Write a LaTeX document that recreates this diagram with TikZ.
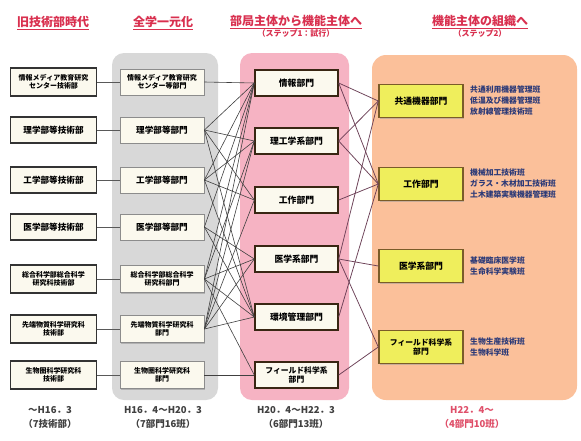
\documentclass[tikz,border=0pt]{standalone}
\usepackage{fontspec}
\setmainfont{Noto Sans CJK JP}
\usetikzlibrary{shadows}
\definecolor{hdred}{HTML}{D9304F}
\definecolor{bggrey}{HTML}{D8D8D8}
\definecolor{bgpink}{HTML}{F6B3C3}
\definecolor{bgorange}{HTML}{FBC09A}
\definecolor{cream}{HTML}{FBF9EE}
\definecolor{ybox}{HTML}{EFEE5C}
\definecolor{ybord}{HTML}{7A5C28}
\definecolor{navy}{HTML}{2C3A78}
\definecolor{lnk}{HTML}{6B3F55}
\tikzset{
  oldbox/.style={draw=black!80, line width=1.6pt, fill=cream, minimum width=86pt, align=center, inner sep=1pt, font=\bfseries\fontsize{7}{8.5}\selectfont},
  unibox/.style={draw=black!45, line width=0.8pt, fill=cream, minimum width=84pt, align=center, inner sep=1pt, drop shadow={shadow xshift=1.2pt, shadow yshift=-1.2pt, fill=black!45}, font=\bfseries\fontsize{7}{8.5}\selectfont},
  stepbox/.style={draw=black!70!brown, line width=1.4pt, fill=cream, minimum width=83pt, minimum height=26pt, align=center, inner sep=1pt, drop shadow={shadow xshift=1.2pt, shadow yshift=-1.2pt, fill=black!50}, font=\bfseries\fontsize{8.8}{10}\selectfont},
  funcbox/.style={draw=ybord, line width=1.4pt, fill=ybox, minimum width=84pt, minimum height=33pt, align=center, inner sep=1pt, drop shadow={shadow xshift=1.2pt, shadow yshift=-1.2pt, fill=black!40}, font=\bfseries\fontsize{8.8}{10}\selectfont},
  side/.style={anchor=west, align=left, text=navy, inner sep=0pt, font=\bfseries\fontsize{7.8}{11}\selectfont},
  hdr/.style={text=hdred, align=center, inner sep=0pt, font=\bfseries\fontsize{12}{14}\selectfont},
  per/.style={text=black!75, align=center, inner sep=0pt, font=\bfseries\fontsize{9.5}{14}\selectfont},
  single/.style={minimum height=26pt, font=\bfseries\fontsize{8.6}{9.5}\selectfont},
  l1/.style={draw=black!65, line width=0.8pt},
  l2/.style={draw=black!75, line width=0.6pt},
  l3/.style={draw=lnk, line width=0.75pt}
}
\begin{document}
\begin{tikzpicture}[x=1pt,y=-1pt]
\useasboundingbox (0,0) rectangle (581,440);
\fill[white] (0,0) rectangle (581,440);
% backgrounds
\fill[bggrey, rounded corners=12pt] (112,53) rectangle (218,400);
\fill[bgpink, rounded corners=12pt] (240,53) rectangle (349,400);
\fill[bgorange, rounded corners=14pt] (372,55) rectangle (577,400);
% headers
\node[hdr] (h1) at (53,23) {\underline{旧技術部時代}};
\node[hdr] (h2) at (163,23) {\underline{全学一元化}};
\node[hdr, anchor=north] (h3) at (296,15) {\underline{部局主体から機能主体へ}\\[-3pt]{\fontsize{8}{9}\selectfont （ステップ1：試行）}};
\node[hdr, anchor=north] (h4) at (480,15) {\underline{機能主体の組織へ}\\[-3pt]{\fontsize{8}{9}\selectfont （ステップ2）}};
% column 1
\node[oldbox, minimum height=28pt] (a1) at (53.5,82) {情報メディア教育研究\\センター技術部};
\node[oldbox, single] (a2) at (53.5,130) {理学部等技術部};
\node[oldbox, single] (a3) at (53.5,180) {工学部等技術部};
\node[oldbox, single] (a4) at (53.5,227) {医学部等技術部};
\node[oldbox, minimum height=28pt] (a5) at (53.5,279) {総合科学部総合科学\\研究科技術部};
\node[oldbox, minimum height=28pt] (a6) at (53.5,329) {先端物質科学研究科\\技術部};
\node[oldbox, minimum height=28pt] (a7) at (53.5,375) {生物圏科学研究科\\技術部};
% column 2
\node[unibox, minimum height=26pt] (b1) at (162,82) {情報メディア教育研究\\センター等部門};
\node[unibox, single] (b2) at (162,130) {理学部等部門};
\node[unibox, single] (b3) at (162,180) {工学部等部門};
\node[unibox, single] (b4) at (162,227) {医学部等部門};
\node[unibox, minimum height=27pt] (b5) at (162,279) {総合科学部総合科学\\研究科部門};
\node[unibox, minimum height=27pt] (b6) at (162,329) {先端物質科学研究科\\部門};
\node[unibox, minimum height=27pt] (b7) at (162,375) {生物圏科学研究科\\部門};
% column 3
\node[stepbox] (c1) at (296.5,83) {情報部門};
\node[stepbox] (c2) at (296.5,141) {理工学系部門};
\node[stepbox] (c3) at (296.5,200) {工作部門};
\node[stepbox] (c4) at (296.5,259) {医学系部門};
\node[stepbox] (c5) at (296.5,317) {環境管理部門};
\node[stepbox, font=\bfseries\fontsize{7.8}{9}\selectfont] (c6) at (296.5,375) {フィールド科学系\\部門};
% column 4
\node[funcbox] (d1) at (421,101) {共通機器部門};
\node[funcbox] (d2) at (421,184) {工作部門};
\node[funcbox] (d3) at (421,266) {医学系部門};
\node[funcbox, font=\bfseries\fontsize{7.8}{9}\selectfont] (d4) at (421,347) {フィールド科学系\\部門};
\node[side] (s1) at (470,101) {共通利用機器管理班\\低温及び機器管理班\\放射線管理技術班};
\node[side] (s2) at (470,184) {機械加工技術班\\ガラス・木材加工技術班\\土木建築実験機器管理班};
\node[side] (s3) at (470,266) {基礎臨床医学班\\生命科学実験班};
\node[side] (s4) at (470,347) {生物生産技術班\\生物科学班};
% periods
\node[per] (p1) at (50,417) {～H16．3\\（7技術部）};
\node[per] (p2) at (163,417) {H16．4～H20．3\\（7部門16班）};
\node[per] (p3) at (296,417) {H20．4～H22．3\\（6部門13班）};
\node[per, text=hdred!85] (p4) at (472,417) {H22．4～\\（4部門10班）};
% connectors col1 -> col2
\foreach \i in {1,...,7} \draw[l1] (a\i.east) -- (b\i.west);
% col2 -> col3
\draw[l2] (b1.east) -- (c1.west);
\draw[l2] (b7.east) -- (c6.west);
\foreach \t in {1,2,3,5} \draw[l2] (b2.east) -- (c\t.west);
\foreach \t in {1,2,3,5} \draw[l2] (b3.east) -- (c\t.west);
\foreach \t in {1,4,5} \draw[l2] (b4.east) -- (c\t.west);
\foreach \t in {1,2,4,5,6} \draw[l2] (b5.east) -- (c\t.west);
\foreach \t in {1,2,3,4,5} \draw[l2] (b6.east) -- (c\t.west);
% col3 -> col4
\draw[l3] (c1.east) -- (d1.west);
\draw[l3] (c1.east) -- (d2.west);
\draw[l3] (c2.east) -- (d1.west);
\draw[l3] (c2.east) -- (d2.west);
\draw[l3] (c3.east) -- (d2.west);
\draw[l3] (c4.east) -- (d1.west);
\draw[l3] (c4.east) -- (d3.west);
\draw[l3] (c4.east) -- (d4.west);
\draw[l3] (c5.east) -- (d2.west);
\draw[l3] (c6.east) -- (d4.west);
\end{tikzpicture}
\end{document}
